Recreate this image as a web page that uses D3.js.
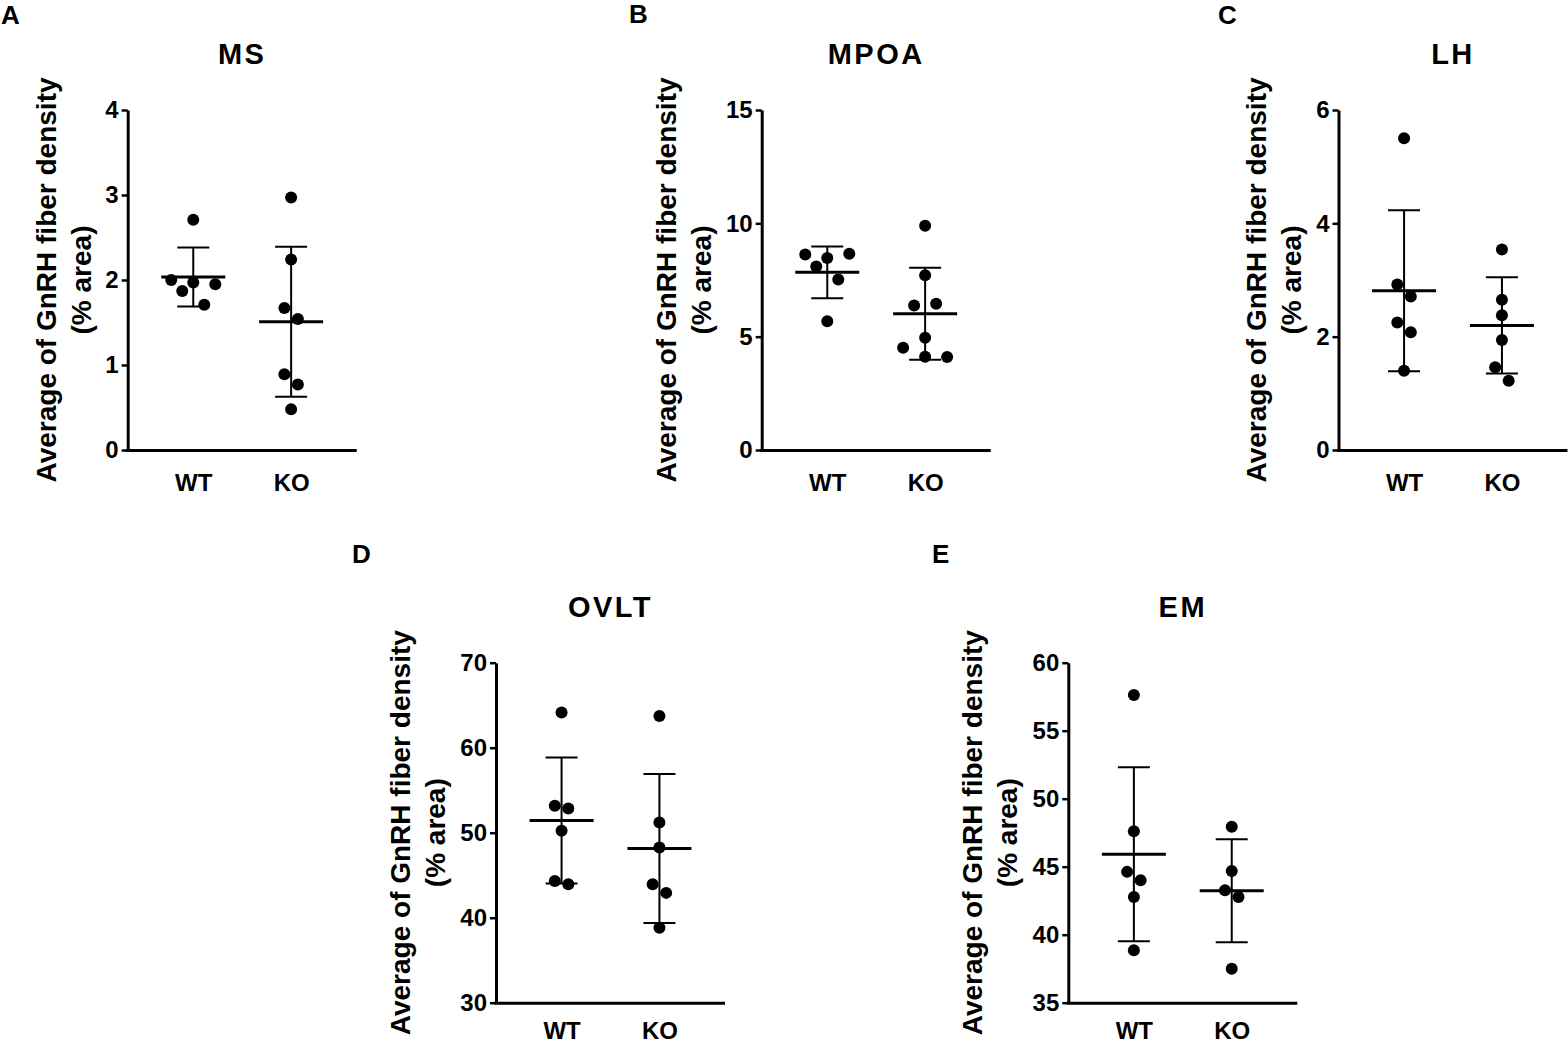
<!DOCTYPE html>
<html>
<head>
<meta charset="utf-8">
<script src="https://cdn.jsdelivr.net/npm/d3@7/dist/d3.min.js"></script>
<style>
  html, body { margin: 0; padding: 0; background: #fff; }
  svg { display: block; }
  text { font-family: "Liberation Sans", Arial, Helvetica, sans-serif; font-weight: bold; fill: #000; }
</style>
</head>
<body>
<svg id="chart" width="1568" height="1044"></svg>
<script>
// ---------------- data ----------------
const groups = ["WT", "KO"];

const msWT   = [2.71, 2.00, 1.97, 1.95, 1.87, 1.71];
const msKO   = [2.97, 2.24, 1.67, 1.54, 0.89, 0.77, 0.48];
const mpoaWT = [8.62, 8.47, 8.66, 8.10, 7.52, 5.68];
const mpoaKO = [9.89, 7.71, 6.37, 6.45, 4.95, 4.51, 4.11, 4.10];
const lhWT   = [5.50, 2.92, 2.71, 2.25, 2.08, 1.40];
const lhKO   = [3.54, 2.65, 2.38, 1.94, 1.46, 1.22];
const ovltWT = [64.15, 53.16, 52.85, 50.22, 44.33, 43.94];
const ovltKO = [63.72, 51.20, 48.26, 43.94, 42.92, 38.83];
const emWT   = [57.62, 47.61, 44.62, 44.00, 42.78, 38.85];
const emKO   = [47.93, 44.69, 43.27, 42.78, 37.50];

const msTicks   = [0, 1, 2, 3, 4];
const mpoaTicks = [0, 5, 10, 15];
const lhTicks   = [0, 2, 4, 6];
const ovltTicks = [30, 40, 50, 60, 70];
const emTicks   = [35, 40, 45, 50, 55, 60];

const titles  = ["MS", "MPOA", "LH", "OVLT", "EM"];
const letters = ["A", "B", "C", "D", "E"];
const yLabelLines = ["Average of GnRH fiber density", "(% area)"];

// ---------------- layout ----------------
const layout = [
  { ax: 127.7,  top: 110,   lx: 1,    ly: 24,  xpad: 24 },
  { ax: 761.7,  top: 110,   lx: 629,  ly: 23,  xpad: 24 },
  { ax: 1338.5, top: 110,   lx: 1218, ly: 24,  xpad: 24 },
  { ax: 496,    top: 662.7, lx: 352,  ly: 563, xpad: 19 },
  { ax: 1068.3, top: 662.7, lx: 932,  ly: 563, xpad: 19 }
];
const W = 229, H = 340;
const dotR = 6;

const panels = [
  { wt: msWT,   ko: msKO,   ticks: msTicks },
  { wt: mpoaWT, ko: mpoaKO, ticks: mpoaTicks },
  { wt: lhWT,   ko: lhKO,   ticks: lhTicks },
  { wt: ovltWT, ko: ovltKO, ticks: ovltTicks },
  { wt: emWT,   ko: emKO,   ticks: emTicks }
];

const svg = d3.select("#chart");
svg.append("rect").attr("width", 1568).attr("height", 1044).attr("fill", "#fff");

// horizontal arrangement of overlapping dots (row grouping, GraphPad-like)
function arrange(values, y) {
  const order = d3.range(values.length).sort((a, b) => values[a] - values[b]);
  const rows = [];
  let cur = null;
  order.forEach(i => {
    if (cur && cur.length < 3 && (y(values[cur[0]]) - y(values[i])) < 14.5) {
      cur.push(i);
    } else {
      cur = [i];
      rows.push(cur);
    }
  });
  const maxRow = d3.max(rows, r => r.length);
  const step = maxRow >= 3 ? 22 : 13.5;
  const off = new Array(values.length).fill(0);
  rows.forEach(r => {
    r.sort((a, b) => a - b);
    r.forEach((idx, k) => { off[idx] = (k - (r.length - 1) / 2) * step; });
  });
  return off;
}

panels.forEach((p, pi) => {
  const L = layout[pi];
  const g = svg.append("g").attr("transform", `translate(${L.ax},${L.top})`);

  const y = d3.scaleLinear().domain(d3.extent(p.ticks)).range([H, 0]);
  const x = d3.scalePoint().domain(groups).range([0, W]).padding(0.67);

  // y axis
  const ya = g.append("g")
    .call(d3.axisLeft(y).tickValues(p.ticks).tickFormat(d3.format("d"))
      .tickSize(6).tickSizeOuter(0).tickPadding(3));
  ya.select(".domain").attr("stroke", "#000").attr("stroke-width", 3);
  ya.selectAll(".tick line").attr("stroke", "#000").attr("stroke-width", 2.5);
  ya.selectAll(".tick text").attr("font-size", 24).attr("fill", "#000")
    .style("font-family", '"Liberation Sans", Arial, sans-serif').style("font-weight", "bold");

  // x axis
  const xa = g.append("g").attr("transform", `translate(0,${H})`)
    .call(d3.axisBottom(x).tickSize(0).tickSizeOuter(0).tickPadding(L.xpad));
  xa.select(".domain").attr("stroke", "#000").attr("stroke-width", 3)
    .attr("d", `M-1.5,0.5H${W}`);
  xa.selectAll(".tick text").attr("font-size", 24).attr("fill", "#000")
    .style("font-family", '"Liberation Sans", Arial, sans-serif').style("font-weight", "bold");

  // title
  g.append("text")
    .attr("x", W / 2).attr("y", -46)
    .attr("text-anchor", "middle")
    .attr("font-size", 29)
    .style("letter-spacing", "2.5px")
    .text(titles[pi]);

  // panel letter
  svg.append("text")
    .attr("x", L.lx).attr("y", L.ly)
    .attr("font-size", 26)
    .text(letters[pi]);

  // y label (two lines)
  const digits = d3.max(p.ticks, t => String(t).length);
  const off1 = -68 - 14 * digits;
  yLabelLines.forEach((line, li) => {
    g.append("text")
      .attr("transform", `translate(${off1 + li * 35},${H / 2}) rotate(-90)`)
      .attr("text-anchor", "middle")
      .attr("dy", "0.35em")
      .attr("font-size", 28)
      .text(line);
  });

  // groups
  [p.wt, p.ko].forEach((vals, gi) => {
    const cx = x(groups[gi]);
    const m = d3.mean(vals);
    const sd = d3.deviation(vals);
    const offs = arrange(vals, y);

    g.append("g").selectAll("circle").data(vals).join("circle")
      .attr("cx", (d, i) => cx + offs[i])
      .attr("cy", d => y(d))
      .attr("r", dotR)
      .attr("fill", "#000");

    // error bar (mean ± SD)
    g.append("line")
      .attr("x1", cx).attr("x2", cx)
      .attr("y1", y(m + sd)).attr("y2", y(m - sd))
      .attr("stroke", "#000").attr("stroke-width", 2);
    [m + sd, m - sd].forEach(v => {
      g.append("line")
        .attr("x1", cx - 16).attr("x2", cx + 16)
        .attr("y1", y(v)).attr("y2", y(v))
        .attr("stroke", "#000").attr("stroke-width", 2);
    });
    // mean line
    g.append("line")
      .attr("x1", cx - 32).attr("x2", cx + 32)
      .attr("y1", y(m)).attr("y2", y(m))
      .attr("stroke", "#000").attr("stroke-width", 3);
  });
});
</script>
</body>
</html>
